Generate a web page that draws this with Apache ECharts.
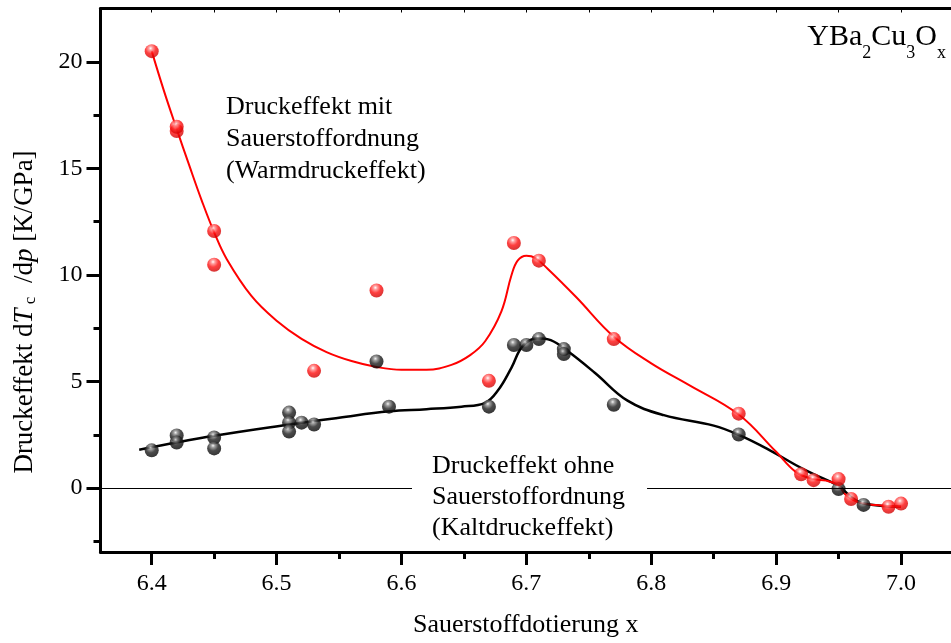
<!DOCTYPE html>
<html>
<head>
<meta charset="utf-8">
<script src="https://cdn.jsdelivr.net/npm/echarts@6/dist/echarts.min.js"></script>
<style>html,body{margin:0;padding:0;background:#fff}#c{width:951px;height:643px}</style>
</head>
<body>
<div id="c"></div>
<script>
// measured points: Warmdruckeffekt (red)
const redX = [6.40, 6.42, 6.42, 6.45, 6.45, 6.53, 6.58, 6.67, 6.69, 6.71, 6.77, 6.87, 6.92, 6.93, 6.95, 6.96, 6.99, 7.00];
const redY = [20.5, 16.75, 16.95, 12.06, 10.48, 5.5, 9.27, 5.03, 11.5, 10.67, 6.99, 3.49, 0.65, 0.37, 0.42, -0.51, -0.88, -0.73];
// measured points: Kaltdruckeffekt (black)
const blackX = [6.40, 6.42, 6.42, 6.45, 6.45, 6.51, 6.51, 6.51, 6.52, 6.53, 6.58, 6.59, 6.67, 6.69, 6.70, 6.71, 6.73, 6.73, 6.77, 6.87, 6.95, 6.97];
const blackY = [1.77, 2.47, 2.14, 2.37, 1.86, 3.54, 3.07, 2.65, 3.07, 2.98, 5.94, 3.82, 3.82, 6.71, 6.71, 6.99, 6.52, 6.29, 3.91, 2.51, -0.05, -0.79];
// fitted curves
const redCurveX = [6.40, 6.41, 6.42, 6.43, 6.44, 6.45, 6.46, 6.48, 6.50, 6.52, 6.54, 6.56, 6.58, 6.60, 6.62, 6.64, 6.655, 6.667, 6.68, 6.688, 6.693, 6.70, 6.707, 6.717, 6.74, 6.77, 6.80, 6.83, 6.87, 6.90, 6.916, 6.93, 6.94, 6.95, 6.955, 6.965, 6.98, 7.00];
const redCurveY = [20.5, 18.6, 16.85, 15.15, 13.5, 12.0, 10.75, 9.0, 7.85, 7.0, 6.38, 5.96, 5.68, 5.55, 5.55, 5.78, 6.24, 6.89, 8.29, 9.97, 10.67, 10.9, 10.8, 10.29, 8.95, 7.1, 5.85, 4.84, 3.45, 1.7, 0.75, 0.42, 0.35, 0.12, -0.28, -0.65, -0.8, -0.88];
const blackCurveX = [6.39, 6.45, 6.51, 6.55, 6.59, 6.62, 6.648, 6.667, 6.677, 6.688, 6.697, 6.709, 6.7195, 6.733, 6.755, 6.781, 6.81, 6.85, 6.871, 6.895, 6.916, 6.93, 6.95, 6.96, 6.97, 7.00];
const blackCurveY = [1.8, 2.45, 2.98, 3.3, 3.6, 3.7, 3.82, 4.0, 4.56, 5.64, 6.66, 7.03, 6.94, 6.43, 5.4, 4.1, 3.42, 2.93, 2.47, 1.77, 1.07, 0.65, 0.1, -0.42, -0.72, -0.88];
// axis ticks
const xTicks = [6.4, 6.5, 6.6, 6.7, 6.8, 6.9, 7.0];
const xMinorTicks = [6.45, 6.55, 6.65, 6.75, 6.85, 6.95];
const xTopTicks = [6.4, 6.45, 6.5, 6.55, 6.6, 6.65, 6.7, 6.75, 6.8, 6.85, 6.9, 6.95, 7.0];
const yTicks = [0, 5, 10, 15, 20];
const yMinorTicks = [-2.5, 2.5, 7.5, 12.5, 17.5];

const FONT = "'Liberation Serif', 'Times New Roman', serif";
const zip = (a, b) => a.map((v, i) => [v, b[i]]);
const X_MIN = 6.359, X_MAX = 7.04, Y_MIN = -3, Y_MAX = 22.5;

function sphere(light, mid, main, dark) {
  return {
    type: 'radial', x: 0.42, y: 0.3, r: 0.75,
    colorStops: [
      {offset: 0, color: light},
      {offset: 0.18, color: mid},
      {offset: 0.5, color: main},
      {offset: 1, color: dark}
    ]
  };
}

const chart = echarts.init(document.getElementById('c'));
const baseX = {type: 'value', min: X_MIN, max: X_MAX, splitLine: {show: false}};
const baseY = {type: 'value', min: Y_MIN, max: Y_MAX, splitLine: {show: false}};
chart.setOption({
  animation: false,
  backgroundColor: '#fff',
  grid: {left: 100.5, top: 8.5, width: 854, height: 546.5, containLabel: false},
  xAxis: [
    Object.assign({}, baseX, {
      position: 'bottom',
      axisLine: {show: true, onZero: false, lineStyle: {color: '#000', width: 3}},
      axisTick: {show: true, inside: false, length: 13, lineStyle: {color: '#000', width: 3}, customValues: xTicks},
      axisLabel: {show: true, margin: 20, color: '#000', fontSize: 24, fontFamily: FONT, customValues: xTicks,
        formatter: v => Number(v).toFixed(1)},
      name: 'Sauerstoffdotierung x', nameLocation: 'middle', nameGap: 60,
      nameTextStyle: {color: '#000', fontSize: 26, fontFamily: FONT}
    }),
    Object.assign({}, baseX, {
      position: 'bottom',
      axisLine: {show: false, onZero: false},
      axisTick: {show: true, inside: false, length: 7, lineStyle: {color: '#000', width: 3}, customValues: xMinorTicks},
      axisLabel: {show: false}
    }),
    Object.assign({}, baseX, {
      position: 'top',
      axisLine: {show: true, onZero: false, lineStyle: {color: '#000', width: 3}},
      axisTick: {show: true, inside: true, length: 4, lineStyle: {color: '#000', width: 1}, customValues: xTopTicks},
      axisLabel: {show: false}
    })
  ],
  yAxis: [
    Object.assign({}, baseY, {
      position: 'left',
      axisLine: {show: true, onZero: false, lineStyle: {color: '#000', width: 3}},
      axisTick: {show: true, inside: false, length: 14, lineStyle: {color: '#000', width: 3}, customValues: yTicks},
      axisLabel: {show: true, margin: 18, color: '#000', fontSize: 24, fontFamily: FONT, customValues: yTicks}
    }),
    Object.assign({}, baseY, {
      position: 'left',
      axisLine: {show: false, onZero: false},
      axisTick: {show: true, inside: false, length: 7, lineStyle: {color: '#000', width: 3}, customValues: yMinorTicks},
      axisLabel: {show: false}
    })
  ],
  series: [
    {
      type: 'line', name: 'Kaltdruckeffekt Kurve', data: zip(blackCurveX, blackCurveY),
      showSymbol: false, smooth: 0.4,
      lineStyle: {color: '#000', width: 2.5}, z: 2, silent: true,
      markLine: {
        silent: true, symbol: ['none', 'none'], label: {show: false},
        lineStyle: {color: '#000', width: 1, type: 'solid'},
        data: [{yAxis: 0}]
      }
    },
    {
      type: 'line', name: 'Warmdruckeffekt Kurve', data: zip(redCurveX, redCurveY),
      showSymbol: false, smooth: 0.4,
      lineStyle: {color: '#ff0000', width: 2}, z: 2, silent: true
    },
    {
      type: 'scatter', name: 'Kaltdruckeffekt', data: zip(blackX, blackY),
      symbol: 'circle', symbolSize: 14, z: 4,
      itemStyle: {color: sphere('#f2f2f2', '#8a8a8a', '#1e1e1e', '#000')}
    },
    {
      type: 'scatter', name: 'Warmdruckeffekt', data: zip(redX, redY),
      symbol: 'circle', symbolSize: 14, z: 5,
      itemStyle: {color: sphere('#ffffff', '#ff8a8a', '#ff1010', '#c40000')}
    }
  ],
  graphic: [
    {
      type: 'text', left: 226, top: 91, z: 100,
      style: {text: 'Druckeffekt mit\nSauerstoffordnung\n(Warmdruckeffekt)', fill: '#000',
        font: '26px ' + FONT, lineHeight: 32}
    },
    {
      type: 'text', x: 412, y: 449, z: 100,
      style: {text: 'Druckeffekt ohne\nSauerstoffordnung\n(Kaltdruckeffekt)', fill: '#000',
        font: '26px ' + FONT, lineHeight: 31, backgroundColor: '#fff', padding: [2, 22, 2, 20]}
    },
    {
      type: 'text', x: 946, y: 52, z: 100,
      style: {
        text: '{n|YBa}{s|2}{n|Cu}{s|3}{n|O}{s|x}',
        align: 'right', verticalAlign: 'bottom',
        rich: {
          n: {fontSize: 30, fontFamily: FONT, fill: '#000', lineHeight: 30, verticalAlign: 'top'},
          s: {fontSize: 18, fontFamily: FONT, fill: '#000', lineHeight: 18, verticalAlign: 'bottom', padding: [0, 0, -10, 0]}
        }
      }
    },
    {
      type: 'text', x: 25, y: 312, rotation: Math.PI / 2, z: 100,
      style: {
        text: '{n|Druckeffekt d}{i|T}{s| c}{n|  /d}{i|p}{n| [K/GPa]}',
        align: 'center', verticalAlign: 'middle',
        rich: {
          n: {fontSize: 27, fontFamily: FONT, fill: '#000', lineHeight: 28},
          i: {fontSize: 27, fontFamily: FONT, fontStyle: 'italic', fill: '#000', lineHeight: 28},
          s: {fontSize: 17, fontFamily: FONT, fill: '#000', lineHeight: 12, verticalAlign: 'bottom'}
        }
      }
    }
  ]
});
</script>
</body>
</html>
